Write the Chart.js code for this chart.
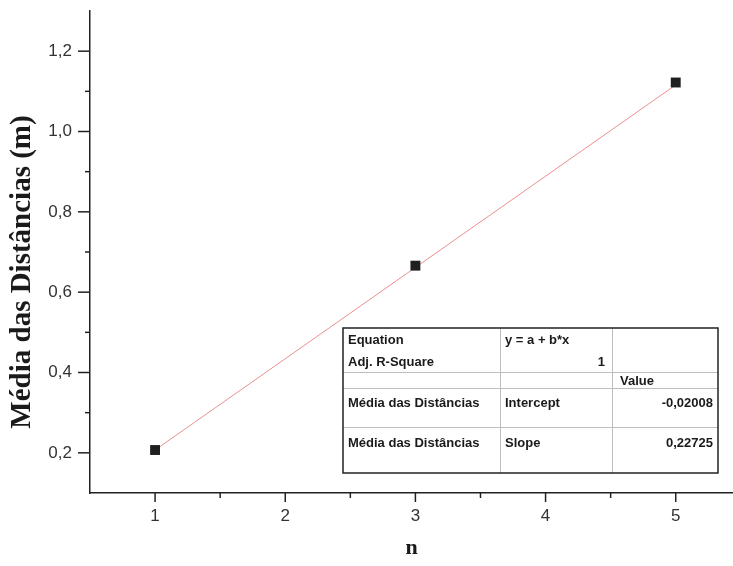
<!DOCTYPE html>
<html>
<head>
<meta charset="utf-8">
<script src="https://cdn.jsdelivr.net/npm/chart.js@4"></script>
<style>
  html, body { margin: 0; padding: 0; background: #fff; overflow: hidden; }
  #wrap { width: 733px; height: 566px; }
</style>
</head>
<body>
<div id="wrap"><canvas id="myChart" width="733" height="566"></canvas></div>
<script>
// Dados
var nValues = [1, 3, 5];
var mediaDistancias = [0.207, 0.666, 1.122];

// reta ajustada (y = a + b*x), extremos
var fitN = [1, 5];
var fitValues = [0.207, 1.116];

// tabela do ajuste linear
var tableCol1 = ['Equation', 'Adj. R-Square', '', 'Média das Distâncias', 'Média das Distâncias'];
var tableCol2 = ['y = a + b*x', '1', '', 'Intercept', 'Slope'];
var tableCol3 = ['', '', 'Value', '-0,02008', '0,22725'];

var yTitle = 'Média das Distâncias (m)';
var xTitle = 'n';

function fmt(v) {
    return v.toFixed(1).replace('.', ',');
}

// marcas dos eixos (maiores e menores), desenhadas para fora
var tickMarks = {
    id: 'tickMarks',
    afterDraw: function (chart) {
        var ctx = chart.ctx;
        var xs = chart.scales.x, ys = chart.scales.y;
        ctx.save();
        ctx.strokeStyle = '#222';
        ctx.lineWidth = 1.5;
        xs.ticks.forEach(function (t) {
            var v = t.value;
            if (Math.abs(v * 2 - Math.round(v * 2)) > 1e-6 || v <= xs.min + 1e-6) return;
            var major = Number.isInteger(v);
            var px = xs.getPixelForValue(v);
            ctx.beginPath();
            ctx.moveTo(px, xs.top);
            ctx.lineTo(px, xs.top + (major ? 9 : 5));
            ctx.stroke();
        });
        ys.ticks.forEach(function (t) {
            var v = t.value;
            if (v <= ys.min + 1e-6 || v >= ys.max - 1e-6) return;
            var major = Math.round(v * 10) % 2 === 0;
            var py = ys.getPixelForValue(v);
            ctx.beginPath();
            ctx.moveTo(ys.right, py);
            ctx.lineTo(ys.right - (major ? 12 : 5), py);
            ctx.stroke();
        });
        ctx.restore();
    }
};

// título do eixo y e tabela do ajuste
var extras = {
    id: 'extras',
    afterDraw: function (chart) {
        var ctx = chart.ctx;
        var area = chart.chartArea;
        ctx.save();

        ctx.fillStyle = '#1a1a1a';
        ctx.font = 'bold 29px "Liberation Serif", "Times New Roman", serif';
        ctx.textAlign = 'center';
        ctx.textBaseline = 'middle';
        ctx.translate(23, 272);
        ctx.rotate(-Math.PI / 2);
        ctx.fillText(yTitle, 0, 0);
        ctx.restore();

        ctx.save();
        var left = area.left + 253, top = area.top + 317;
        var cols = [left, left + 157, left + 269, left + 375];
        var rowLines = [top + 22, top + 44, top + 60, top + 99];
        var rowText = [top + 12, top + 34, top + 53, top + 75, top + 115];
        var bottom = top + 145;

        ctx.strokeStyle = '#bdbdbd';
        ctx.lineWidth = 1;
        rowLines.forEach(function (y, i) {
            if (i === 0) return;
            ctx.beginPath();
            ctx.moveTo(cols[0], y + 0.5);
            ctx.lineTo(cols[3], y + 0.5);
            ctx.stroke();
        });
        [cols[1], cols[2]].forEach(function (x) {
            ctx.beginPath();
            ctx.moveTo(x + 0.5, top);
            ctx.lineTo(x + 0.5, bottom);
            ctx.stroke();
        });

        ctx.strokeStyle = '#222';
        ctx.lineWidth = 1.5;
        ctx.strokeRect(cols[0], top, cols[3] - cols[0], bottom - top);

        ctx.fillStyle = '#1a1a1a';
        ctx.font = 'bold 13px "Liberation Sans", Arial, sans-serif';
        ctx.textBaseline = 'middle';
        for (var i = 0; i < rowText.length; i++) {
            ctx.textAlign = 'left';
            ctx.fillText(tableCol1[i], cols[0] + 5, rowText[i]);
            if (i === 1) {
                ctx.textAlign = 'right';
                ctx.fillText(tableCol2[i], cols[2] - 7, rowText[i]);
            } else {
                ctx.textAlign = 'left';
                ctx.fillText(tableCol2[i], cols[1] + 5, rowText[i]);
            }
            if (i === 2) {
                ctx.textAlign = 'left';
                ctx.fillText(tableCol3[i], cols[2] + 8, rowText[i]);
            } else {
                ctx.textAlign = 'right';
                ctx.fillText(tableCol3[i], cols[3] - 5, rowText[i]);
            }
        }
        ctx.restore();
    }
};

var ctx = document.getElementById('myChart').getContext('2d');
var myChart = new Chart(ctx, {
    type: 'scatter',
    data: {
        datasets: [{
            type: 'line',
            data: fitN.map(function (x, i) { return { x: x, y: fitValues[i] }; }),
            borderColor: '#e99090',
            borderWidth: 1,
            pointRadius: 0,
            fill: false,
            order: 2
        }, {
            data: nValues.map(function (x, i) { return { x: x, y: mediaDistancias[i] }; }),
            pointStyle: 'rect',
            pointRadius: 7,
            backgroundColor: '#1f1f1f',
            borderColor: '#1f1f1f',
            borderWidth: 0,
            order: 1
        }]
    },
    options: {
        responsive: false,
        animation: false,
        layout: { autoPadding: false, padding: { top: 11, right: 0, left: 0, bottom: 0 } },
        plugins: {
            legend: { display: false },
            tooltip: { enabled: false }
        },
        scales: {
            x: {
                type: 'linear',
                min: 0.5,
                max: 5.44,
                afterFit: function (scale) {
                    scale.height = 73;
                    scale.paddingLeft = 0;
                    scale.paddingRight = 0;
                },
                border: { display: true, color: '#222', width: 1.5 },
                grid: { drawOnChartArea: false, drawTicks: false },
                ticks: {
                    stepSize: 0.5,
                    includeBounds: false,
                    padding: 13,
                    color: '#333',
                    font: { family: '"Liberation Sans", Arial, sans-serif', size: 17 },
                    callback: function (v) { return Number.isInteger(v) ? String(v) : ''; }
                },
                title: {
                    display: true,
                    text: xTitle,
                    color: '#1a1a1a',
                    padding: { top: 0, bottom: 4 },
                    font: { family: '"Liberation Serif", "Times New Roman", serif', size: 22, weight: 'bold' }
                }
            },
            y: {
                min: 0.1,
                max: 1.3,
                afterFit: function (scale) {
                    scale.width = 90;
                    scale.paddingTop = 0;
                    scale.paddingBottom = 0;
                },
                border: { display: true, color: '#222', width: 1.5 },
                grid: { drawOnChartArea: false, drawTicks: false },
                ticks: {
                    stepSize: 0.1,
                    includeBounds: false,
                    padding: 18,
                    color: '#333',
                    font: { family: '"Liberation Sans", Arial, sans-serif', size: 17 },
                    callback: function (v) {
                        var k = Math.round(v * 10);
                        return (k % 2 === 0 && k >= 2 && k <= 12) ? fmt(v) : '';
                    }
                }
            }
        }
    },
    plugins: [tickMarks, extras]
});
</script>
</body>
</html>
